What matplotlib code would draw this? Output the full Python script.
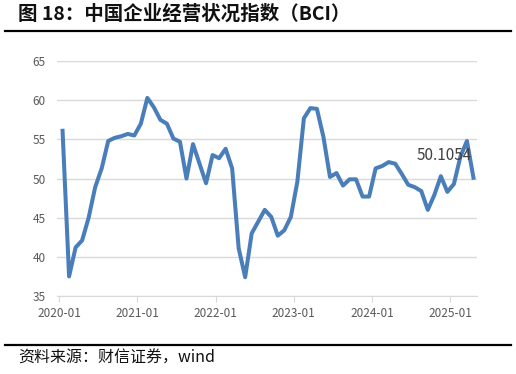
import matplotlib
matplotlib.use("Agg")
import matplotlib.pyplot as plt
from matplotlib.lines import Line2D
import numpy as np

plt.rcParams['font.family'] = ['Noto Sans CJK SC', 'DejaVu Sans']

# 中国企业经营状况指数 BCI, 2020-01 .. 2025-04
bci = [56.1, 37.5, 41.2, 42.1, 45.0, 48.9, 51.3, 54.8, 55.2, 55.4, 55.7, 55.5,
       57.0, 60.3, 59.1, 57.5, 57.0, 55.1, 54.7, 50.0, 54.4, 51.9, 49.4, 53.0,
       52.6, 53.8, 51.3, 41.1, 37.4, 43.0, 44.5, 46.0, 45.1, 42.7, 43.4, 45.1,
       49.6, 57.7, 59.0, 58.9, 55.3, 50.2, 50.7, 49.1, 49.9, 49.9, 47.7, 47.7,
       51.3, 51.6, 52.1, 51.9, 50.6, 49.2, 48.9, 48.4, 46.0, 47.9, 50.3, 48.3,
       49.3, 52.8, 54.8, 50.1054]
years = ["2020-01", "2021-01", "2022-01", "2023-01", "2024-01", "2025-01"]
yticks = [35, 40, 45, 50, 55, 60, 65]

x = np.arange(len(bci))

fig = plt.figure(figsize=(5.16, 3.74), dpi=100)
ax = fig.add_axes([0.1105, 0.2086, 0.814, 0.628])

ax.plot(x, bci, color="#4a7ebb", linewidth=2.9, solid_joinstyle="round")

ax.set_ylim(35, 65)
ax.set_xlim(-0.85, 63.55)
ax.set_yticks(yticks)
ax.set_xticks([12 * k - 0.55 for k in range(len(years))])
ax.set_xticklabels(years)
ax.grid(axis="y", color="#d9d9d9", linewidth=1)
ax.set_axisbelow(True)
for s in ["top", "right", "left"]:
    ax.spines[s].set_visible(False)
ax.spines["bottom"].set_color("#d9d9d9")
ax.tick_params(axis="y", length=0, labelsize=8.5, labelcolor="#595959", pad=8)
ax.tick_params(axis="x", length=4, color="#d9d9d9", labelsize=8.5,
               labelcolor="#595959", pad=4)

ax.annotate(f"{bci[-1]:.4f}", xy=(x[-1], bci[-1]), xytext=(-21, 16),
            textcoords="offset points", ha="center", va="center",
            fontsize=11, color="#404040")

fig.text(0.035, 0.962, "图 18：中国企业经营状况指数（BCI）", fontsize=14,
         fontweight="bold", ha="left", va="center", color="#111111")
fig.add_artist(Line2D([0.01, 0.99], [0.917, 0.917], color="black", linewidth=1.6))
fig.add_artist(Line2D([0.01, 0.99], [0.077, 0.077], color="black", linewidth=1.6))
fig.text(0.035, 0.042, "资料来源：财信证券，wind", fontsize=11.5, style="italic",
         ha="left", va="center", color="#111111")

fig.savefig("out.png", dpi=100)
